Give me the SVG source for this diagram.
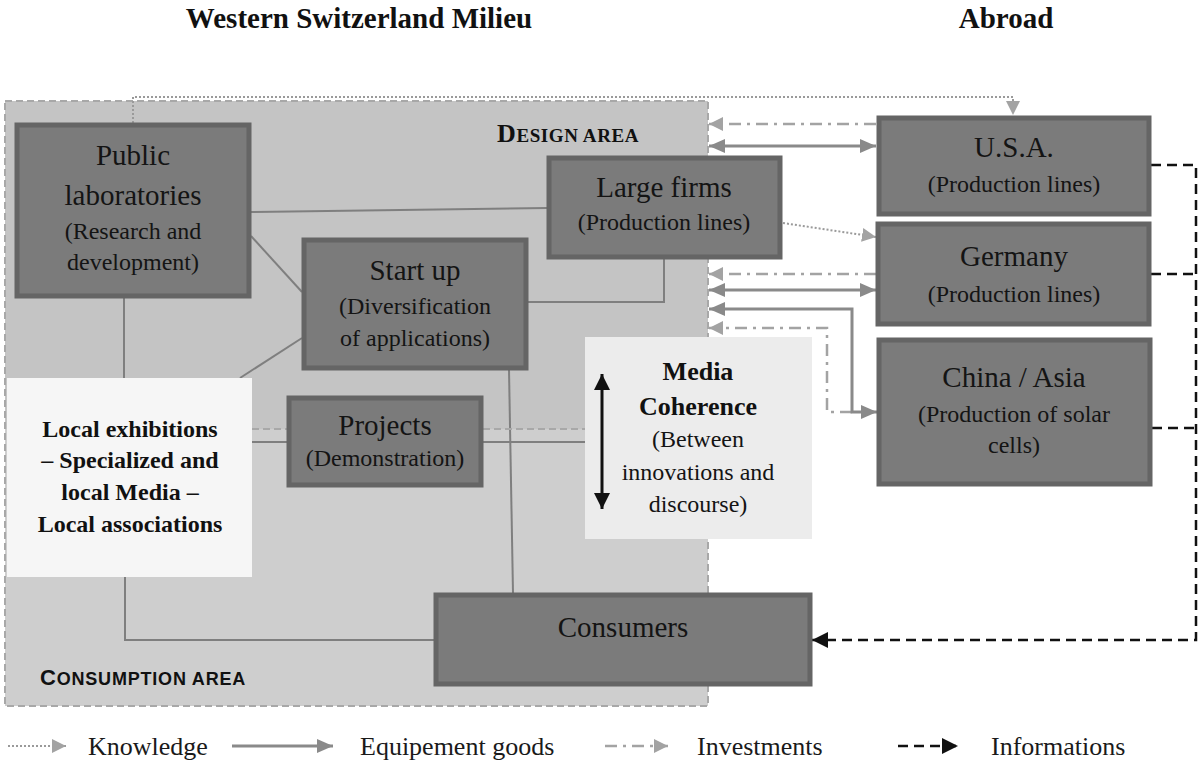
<svg xmlns="http://www.w3.org/2000/svg" width="1201" height="760" viewBox="0 0 1201 760">
  <defs>
    <style>
      .box { fill: #7b7b7b; stroke: #656565; stroke-width: 5; }
      .t-main { font-family: "Liberation Serif", "Times New Roman", serif; font-size: 29px; fill: #141414; text-anchor: middle; }
      .t-sub { font-family: "Liberation Serif", "Times New Roman", serif; font-size: 24px; fill: #141414; text-anchor: middle; }
      .t-bold { font-family: "Liberation Serif", "Times New Roman", serif; font-weight: bold; fill: #111; text-anchor: middle; }
      .link { fill: none; stroke: #7f7f7f; stroke-width: 2; }
      .equip { fill: none; stroke: #8a8a8a; stroke-width: 3; }
      .invest { fill: none; stroke: #a3a3a3; stroke-width: 2.5; stroke-dasharray: 12 6 3 6; }
      .know { fill: none; stroke: #9a9a9a; stroke-width: 2; stroke-dasharray: 2 2; }
      .info { fill: none; stroke: #111; stroke-width: 2.5; stroke-dasharray: 10 6; }
      .legend { font-family: "Liberation Serif", "Times New Roman", serif; font-size: 26px; fill: #1a1a1a; }
    </style>
    <marker id="ah-grey" markerUnits="userSpaceOnUse" markerWidth="18" markerHeight="14" refX="16" refY="7" orient="auto-start-reverse">
      <path d="M0,0 L16,7 L0,14 Z" fill="#8a8a8a"/>
    </marker>
    <marker id="ah-light" markerUnits="userSpaceOnUse" markerWidth="16" markerHeight="14" refX="14" refY="7" orient="auto-start-reverse">
      <path d="M0,0 L14,7 L0,14 Z" fill="#a3a3a3"/>
    </marker>
    <marker id="ah-black" markerUnits="userSpaceOnUse" markerWidth="18" markerHeight="16" refX="16" refY="8" orient="auto-start-reverse">
      <path d="M0,0 L16,8 L0,16 Z" fill="#111"/>
    </marker>
  </defs>

  <rect width="1201" height="760" fill="#ffffff"/>

  <!-- Titles -->
  <text x="359" y="28" font-family="Liberation Serif, Times New Roman, serif" font-weight="bold" font-size="29" fill="#111" text-anchor="middle">Western Switzerland Milieu</text>
  <text x="1006" y="28" font-family="Liberation Serif, Times New Roman, serif" font-weight="bold" font-size="29" fill="#111" text-anchor="middle">Abroad</text>

  <!-- Milieu areas -->
  <g id="areas">
    <rect x="5" y="101" width="703" height="328" fill="#c4c4c4"/>
    <rect x="5" y="429" width="703" height="277" fill="#cecece"/>
    <rect x="5" y="101" width="703" height="605" fill="none" stroke="#a8a8a8" stroke-width="2" stroke-dasharray="7 4"/>
    <text x="497" y="142" font-family="Liberation Serif, Times New Roman, serif" font-weight="bold" fill="#111" letter-spacing="0.6"><tspan font-size="26">D</tspan><tspan font-size="19">ESIGN AREA</tspan></text>
    <text x="40" y="685" font-family="Liberation Sans, Arial, sans-serif" font-weight="bold" fill="#111" letter-spacing="0.8"><tspan font-size="22">C</tspan><tspan font-size="18">ONSUMPTION AREA</tspan></text>
  </g>

  <!-- Connectors -->
  <g id="connectors">
    <!-- internal links -->
    <path class="link" d="M251,212 L547,208"/>
    <path class="link" d="M251,236 L302,292"/>
    <path class="link" d="M124,298 V378"/>
    <path class="link" d="M302,338 L240,378"/>
    <path class="link" d="M664,259 V302 H528"/>
    <path class="link" d="M509,370 L513,593"/>
    <path class="link" d="M125,577 V640 H434"/>
    <path class="link" d="M252,442 H287"/>
    <path class="link" d="M483,442 H585"/>
    <path d="M252,429 H287 M483,429 H585" fill="none" stroke="#a8a8a8" stroke-width="2" stroke-dasharray="7 4"/>

    <!-- knowledge -->
    <path class="know" d="M133,123 V97 H1013 V115" marker-end="url(#ah-light)"/>
    <path class="know" d="M783,223 L876,237" marker-end="url(#ah-light)"/>

    <!-- investments -->
    <path class="invest" d="M876,124 H709" marker-end="url(#ah-light)"/>
    <path class="invest" d="M876,274 H709" marker-end="url(#ah-light)"/>
    <path class="invest" d="M852,412 H827 V328 H709" marker-end="url(#ah-light)"/>

    <!-- equipment goods -->
    <path class="equip" d="M709,146 H876" marker-start="url(#ah-grey)" marker-end="url(#ah-grey)"/>
    <path class="equip" d="M709,290 H876" marker-start="url(#ah-grey)" marker-end="url(#ah-grey)"/>
    <path class="equip" d="M709,309 H852 V412 H877" marker-start="url(#ah-grey)" marker-end="url(#ah-grey)"/>

    <!-- informations -->
    <path class="info" d="M1151,165 H1196 V640 H812" marker-end="url(#ah-black)"/>
    <path class="info" d="M1151,274 H1196"/>
    <path class="info" d="M1152,428 H1196"/>
  </g>

  <!-- Nodes -->
  <g id="public-laboratories">
    <rect class="box" x="17" y="125" width="232" height="171"/>
    <text class="t-main" x="133" y="165">Public</text>
    <text class="t-main" x="133" y="205">laboratories</text>
    <text class="t-sub" x="133" y="239">(Research and</text>
    <text class="t-sub" x="133" y="270">development)</text>
  </g>

  <g id="large-firms">
    <rect class="box" x="549" y="158" width="231" height="99"/>
    <text class="t-main" x="664" y="197">Large firms</text>
    <text class="t-sub" x="664" y="230">(Production lines)</text>
  </g>

  <g id="start-up">
    <rect class="box" x="304" y="240" width="222" height="128"/>
    <text class="t-main" x="415" y="280">Start up</text>
    <text class="t-sub" x="415" y="314">(Diversification</text>
    <text class="t-sub" x="415" y="346">of applications)</text>
  </g>

  <g id="projects">
    <rect class="box" x="289" y="398" width="192" height="87"/>
    <text class="t-main" x="385" y="435" font-size="27">Projects</text>
    <text class="t-sub" x="385" y="466" font-size="21">(Demonstration)</text>
  </g>

  <g id="local-media">
    <rect x="7" y="378" width="245" height="199" fill="#f6f6f6"/>
    <text class="t-bold" x="130" y="437" font-size="24">Local exhibitions</text>
    <text class="t-bold" x="130" y="468" font-size="24">– Specialized and</text>
    <text class="t-bold" x="130" y="500" font-size="24">local Media –</text>
    <text class="t-bold" x="130" y="532" font-size="24">Local associations</text>
  </g>

  <g id="media-coherence">
    <rect x="585" y="337" width="227" height="202" fill="#ececec"/>
    <path d="M602,374 V509" stroke="#111" stroke-width="3" marker-start="url(#ah-black)" marker-end="url(#ah-black)"/>
    <text class="t-bold" x="698" y="380" font-size="26">Media</text>
    <text class="t-bold" x="698" y="415" font-size="26">Coherence</text>
    <text class="t-sub" x="698" y="447">(Between</text>
    <text class="t-sub" x="698" y="480">innovations and</text>
    <text class="t-sub" x="698" y="512">discourse)</text>
  </g>

  <g id="consumers">
    <rect class="box" x="436" y="595" width="374" height="89"/>
    <text class="t-main" x="623" y="637">Consumers</text>
  </g>

  <g id="usa">
    <rect class="box" x="879" y="118" width="270" height="96"/>
    <text class="t-main" x="1014" y="157">U.S.A.</text>
    <text class="t-sub" x="1014" y="192">(Production lines)</text>
  </g>

  <g id="germany">
    <rect class="box" x="878" y="224" width="271" height="100"/>
    <text class="t-main" x="1014" y="266">Germany</text>
    <text class="t-sub" x="1014" y="302">(Production lines)</text>
  </g>

  <g id="china-asia">
    <rect class="box" x="879" y="340" width="271" height="144"/>
    <text class="t-main" x="1014" y="387">China / Asia</text>
    <text class="t-sub" x="1014" y="422">(Production of solar</text>
    <text class="t-sub" x="1014" y="453">cells)</text>
  </g>

  <!-- Legend -->
  <g id="legend">
    <path class="know" d="M8,746 H66" marker-end="url(#ah-light)"/>
    <text class="legend" x="88" y="755">Knowledge</text>
    <path class="equip" d="M232,746 H333" marker-end="url(#ah-grey)"/>
    <text class="legend" x="360" y="755">Equipement goods</text>
    <path class="invest" d="M605,746 H668" marker-end="url(#ah-light)"/>
    <text class="legend" x="697" y="755">Investments</text>
    <path class="info" d="M898,746 H958" marker-end="url(#ah-black)"/>
    <text class="legend" x="991" y="755">Informations</text>
  </g>
</svg>
